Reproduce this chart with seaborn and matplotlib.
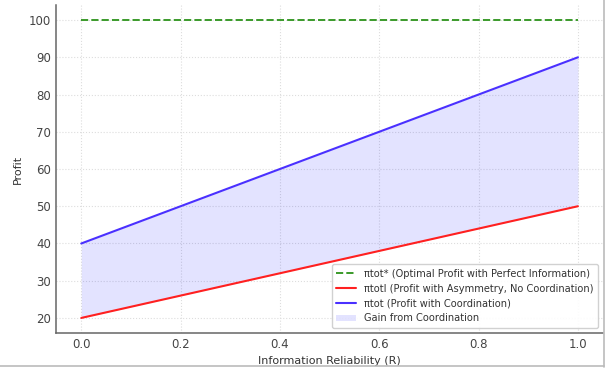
import numpy as np
import pandas as pd
import seaborn as sns
from matplotlib import pyplot as plt
from matplotlib.lines import Line2D

# information reliability and profit levels
reliability = [0.0, 0.2, 0.4, 0.6, 0.8, 1.0]
profit_optimal = [100, 100, 100, 100, 100, 100]
profit_no_coord = [20, 26, 32, 38, 44, 50]
profit_coord = [40, 50, 60, 70, 80, 90]

labels = [
    "\u03c0tot* (Optimal Profit with Perfect Information)",
    "\u03c0totI (Profit with Asymmetry, No Coordination)",
    "\u03c0tot (Profit with Coordination)",
]

df = pd.DataFrame({
    "R": reliability,
    "opt": profit_optimal,
    "nocoord": profit_no_coord,
    "coord": profit_coord,
})

sns.set_theme(style="whitegrid")
plt.rcParams["font.family"] = ["DejaVu Sans"]

fig = plt.figure(figsize=(6.07, 3.69), dpi=100)
ax = fig.add_axes([0.093, 0.098, 0.9, 0.888])

sns.lineplot(data=df, x="R", y="opt", ax=ax, color="#3a9a2a", linestyle="--",
             linewidth=1.4, label=labels[0])
sns.lineplot(data=df, x="R", y="nocoord", ax=ax, color="#ff2020", linewidth=1.5,
             label=labels[1])
sns.lineplot(data=df, x="R", y="coord", ax=ax, color="#4a30ff", linewidth=1.5,
             label=labels[2])
ax.fill_between(df["R"], df["nocoord"], df["coord"], color="blue", alpha=0.11,
                linewidth=0, label="Gain from Coordination")

ax.set_xticks([0.0, 0.2, 0.4, 0.6, 0.8, 1.0])
ax.set_yticks(range(20, 101, 10))
ax.set_xlabel("Information Reliability (R)", fontsize=8, color="#333333", labelpad=3)
ax.set_ylabel("Profit", fontsize=8, color="#333333")
ax.tick_params(labelsize=8.5, colors="#444444", direction="in", length=2.5,
               width=0.8, pad=4)
ax.grid(True, color="#dddddd", linestyle=":", linewidth=0.8)

for side in ["top", "right"]:
    ax.spines[side].set_visible(False)
for side in ["left", "bottom"]:
    ax.spines[side].set_color("#666666")
    ax.spines[side].set_linewidth(1.1)

leg = ax.legend(loc="lower right", fontsize=7.1, frameon=True, fancybox=True,
                framealpha=0.9, edgecolor="#cccccc", borderpad=0.45,
                handlelength=2.0, labelspacing=0.5)
for t in leg.get_texts():
    t.set_color("#333333")

# screenshot frame edges
fig.add_artist(Line2D([0.995, 0.995], [0.005, 1.0], color="#bbbbbb", lw=1.2))
fig.add_artist(Line2D([0.0, 0.995], [0.008, 0.008], color="#bbbbbb", lw=1.2))

plt.savefig("out.png", dpi=100)
